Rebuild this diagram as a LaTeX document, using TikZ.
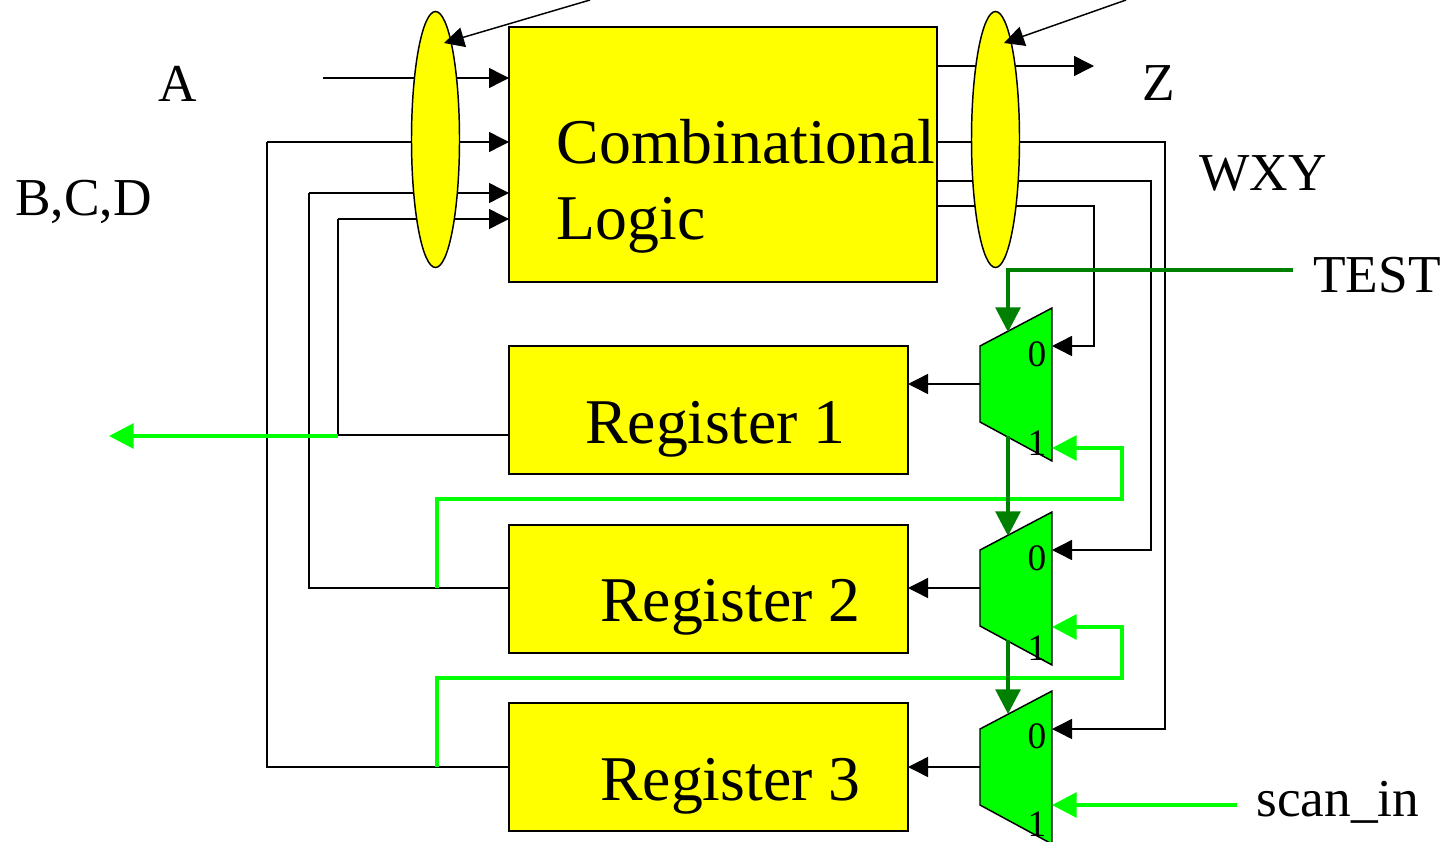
\documentclass[tikz,border=0pt]{standalone}
\usepackage{fontspec}
\setmainfont{Liberation Serif}
\usetikzlibrary{arrows.meta,shapes.geometric}
\definecolor{lgreen}{RGB}{0,255,0}
\definecolor{dgreen}{RGB}{0,128,0}
\definecolor{yel}{RGB}{255,255,0}
\tikzset{
  x=0.75pt,y=-0.75pt,
  wire/.style={draw=black,line width=1.1pt},
  arr/.style={wire,-{Triangle[length=15pt,width=15pt]}},
  grn/.style={draw=lgreen,line width=3pt},
  grnarr/.style={grn,-{Triangle[length=18.5pt,width=18.5pt]}},
  dgr/.style={draw=dgreen,line width=3pt},
  dgrarr/.style={dgr,-{Triangle[length=18.5pt,width=18.5pt]}},
  box/.style={draw=black,fill=yel,line width=1.1pt,inner sep=0pt,outer sep=0pt},
  sel/.style={box,ellipse,minimum width=36pt,minimum height=192pt},
  muxs/.style={draw=black,fill=lgreen,line width=1.1pt},
  lab/.style={inner sep=0pt,font=\fontsize{40}{40}\selectfont,anchor=base west},
  big/.style={inner sep=0pt,font=\fontsize{47.8}{47.8}\selectfont,anchor=base west},
  dig/.style={inner sep=0pt,font=\fontsize{28}{28}\selectfont,anchor=center},
}
\begin{document}
\begin{tikzpicture}
\useasboundingbox (0,0) rectangle (1442,842);
\coordinate (ainS) at (323,78);
\coordinate (sel1) at (590,0);
\coordinate (sel2) at (1126,0);
\coordinate (sel1e) at (444,43);
\coordinate (sel2e) at (1004,43);
\coordinate (zE) at (1094,66);
\coordinate (scanS) at (1237,805);
\coordinate (testS) at (1293,270);
\coordinate (soE) at (109,436);
\coordinate (bus1) at (338,219);
\coordinate (bus2) at (309,193);
\coordinate (bus3) at (267,142);
\coordinate (wz) at (1165,142);
\coordinate (wy) at (1151,181);
\coordinate (wx) at (1094,206);
\coordinate (tap2) at (437,588);
\coordinate (tap3) at (437,767);
\coordinate (ret1) at (1122,499);
\coordinate (ret2) at (1122,678);
% mux ports
\coordinate (m1a) at (1052,346);
\coordinate (m1b) at (1052,448);
\coordinate (m1o) at (980,384);
\coordinate (m1s) at (1008,332);
\coordinate (m1c) at (1008,436);
\coordinate (m2a) at (1052,550);
\coordinate (m2b) at (1052,627);
\coordinate (m2o) at (980,588);
\coordinate (m2s) at (1008,536);
\coordinate (m2c) at (1008,640);
\coordinate (m3a) at (1052,729);
\coordinate (m3b) at (1052,805);
\coordinate (m3o) at (980,767);
\coordinate (m3s) at (1008,714);
% boxes
\node[box,minimum width=321pt,minimum height=191.25pt] (logic) at (723,154.5) {};
\node[box,minimum width=299.25pt,minimum height=96pt] (reg1) at (708.5,410) {};
\node[box,minimum width=299.25pt,minimum height=96pt] (reg2) at (708.5,589) {};
\node[box,minimum width=299.25pt,minimum height=96pt] (reg3) at (708.5,767) {};
% wires behind the ellipses
\draw[arr] (ainS) -- (ainS -| logic.west);
\draw[arr] (bus3) -- (bus3 -| logic.west);
\draw[arr] (bus2) -- (bus2 -| logic.west);
\draw[arr] (bus1) -- (bus1 -| logic.west);
\draw[wire] (reg1.west |- 0,435) -- (338,435) -- (bus1);
\draw[wire] (reg2.west |- tap2) -- (tap2) -- (bus2 |- tap2) -- (bus2);
\draw[wire] (reg3.west |- tap3) -- (tap3) -- (bus3 |- tap3) -- (bus3);
\draw[arr] (logic.east |- zE) -- (zE);
\draw[arr] (logic.east |- wz) -- (wz) -- (wz |- m3a) -- (m3a);
\draw[arr] (logic.east |- wy) -- (wy) -- (wy |- m2a) -- (m2a);
\draw[arr] (logic.east |- wx) -- (wx) -- (wx |- m1a) -- (m1a);
% ellipses
\node[sel] (ell1) at (435.5,139.5) {};
\node[sel] (ell2) at (995.5,139.5) {};
\draw[arr] (sel1) -- (sel1e);
\draw[arr] (sel2) -- (sel2e);
% muxes
\path[muxs] (980,346) -- (1052,308) -- (1052,461) -- (980,422) -- cycle;
\path[muxs] (980,550) -- (1052,512) -- (1052,665) -- (980,626) -- cycle;
\path[muxs] (980,729) -- (1052,691) -- (1052,844) -- (980,805) -- cycle;
\draw[arr] (m1o) -- (m1o -| reg1.east);
\draw[arr] (m2o) -- (m2o -| reg2.east);
\draw[arr] (m3o) -- (m3o -| reg3.east);
% digits
\node[dig] (d1) at (1037,354) {0};
\node[dig] (d2) at (1037,443) {1};
\node[dig] (d3) at (1037,558) {0};
\node[dig] (d4) at (1037,648) {1};
\node[dig] (d5) at (1037,736) {0};
\node[dig] (d6) at (1037,824) {1};
% green
\draw[grnarr] (338,436) -- (soE);
\draw[grnarr] (tap2) -- (tap2 |- ret1) -- (ret1) -- (ret1 |- m1b) -- (m1b);
\draw[grnarr] (tap3) -- (tap3 |- ret2) -- (ret2) -- (ret2 |- m2b) -- (m2b);
\draw[grnarr] (scanS) -- (m3b);
\draw[dgrarr] (testS) -- (testS -| m1s) -- (m1s);
\draw[dgrarr] (m1c) -- (m2s);
\draw[dgrarr] (m2c) -- (m3s);
% texts
\node[lab] (tA) at (158,101.5) {A};
\node[lab] (tB) at (15,215) {B,C,D};
\node[lab] (tZ) at (1142,101) {Z};
\node[lab] (tW) at (1199,190) {WXY};
\node[lab] (tT) at (1313,292) {TEST};
\node[lab] (tS) at (1256,816) {scan\_in};
\node[big] (t1) at (556.5,163) {Combinational};
\node[big] (t2) at (556.5,239) {Logic};
\node[big] (r1) at (585,443.5) {Register 1};
\node[big] (r2) at (600,621.5) {Register 2};
\node[big] (r3) at (600,800.5) {Register 3};
\end{tikzpicture}
\end{document}
